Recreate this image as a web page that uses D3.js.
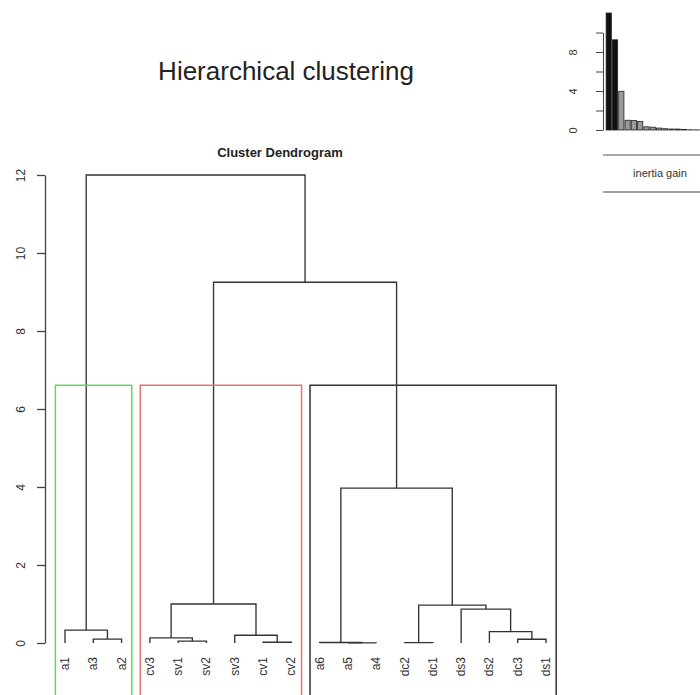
<!DOCTYPE html>
<html>
<head>
<meta charset="utf-8">
<script src="https://cdn.jsdelivr.net/npm/d3@7/dist/d3.min.js"></script>
<style>
  html, body { margin: 0; padding: 0; background: #fff; }
  svg { display: block; font-family: "Liberation Sans", Arial, Helvetica, sans-serif; }
</style>
</head>
<body>
<svg id="chart" width="700" height="695"></svg>
<script>
// ---- data ----
const leafLabels = ["a1","a3","a2","cv3","sv1","sv2","sv3","cv1","cv2","a6","a5","a4","dc2","dc1","ds3","ds2","dc3","ds1"];
// merges in hclust style: negative = leaf (1-based position), positive = earlier merge (1-based)
const mergeLeft   = [-11, -13, -8, -10, -5, -17, -2, -4, -7, -16, -1, -15, 8, 2, 4, 13, 11];
const mergeRight  = [-12, -14, -9,   1, -6, -18, -3,  5,  3,   6,  7,  10, 9, 12, 14, 15, 16];
const mergeHeight = [0.005, 0.01, 0.02, 0.012, 0.05, 0.095, 0.1, 0.13, 0.2, 0.29, 0.33, 0.87, 1.0, 0.97, 3.97, 9.25, 12.0];
const clusterRanges = [[1, 3], [4, 9], [10, 18]];
const clusterColors = ["#62d862", "#e97373", "#333333"];
const cutHeight = 6.61;
const yTicks = [0, 2, 4, 6, 8, 10, 12];
const inertiaGain = [12.0, 9.25, 3.97, 1.0, 0.97, 0.87, 0.33, 0.29, 0.2, 0.13, 0.1, 0.095, 0.05, 0.02, 0.012, 0.01, 0.005];
const inertiaTicks = [0, 2, 4, 6, 8, 10];
const inertiaTickLabels = [0, 4, 8];

const svg = d3.select("#chart");
const lineCol = "#333";

// ---- titles ----
svg.append("text").attr("x", 286).attr("y", 80).attr("text-anchor", "middle")
  .attr("font-size", 26).attr("fill", "#222").text("Hierarchical clustering");
svg.append("text").attr("x", 280).attr("y", 157).attr("text-anchor", "middle")
  .attr("font-size", 13).attr("font-weight", "bold").attr("fill", "#222").text("Cluster Dendrogram");

// ---- dendrogram scales ----
const x = d3.scaleLinear().domain([1, 18]).range([65, 546]);
const y = d3.scaleLinear().domain([0, 12]).range([643, 175]);

// y axis
const yAxis = svg.append("g").attr("transform", "translate(45,0)")
  .call(d3.axisLeft(y).tickValues(yTicks).tickSize(8).tickSizeOuter(0).tickPadding(0));
yAxis.select(".domain").attr("stroke", "#444").attr("stroke-width", 1.3);
yAxis.selectAll(".tick line").attr("stroke", "#444").attr("stroke-width", 1.3);
yAxis.selectAll(".tick text")
  .attr("font-size", 12).attr("fill", "#333")
  .attr("text-anchor", "middle")
  .attr("x", 0).attr("dy", 0)
  .attr("transform", "translate(-24,0) rotate(-90)")
  .attr("dominant-baseline", "central");

// layout of tree
const nodeX = [], nodeH = [];
function posOf(id) { return id < 0 ? -id : nodeX[id - 1]; }
function hOf(id) { return id < 0 ? 0 : nodeH[id - 1]; }
const segs = [];
mergeLeft.forEach((l, i) => {
  const r = mergeRight[i], h = mergeHeight[i];
  const x1 = posOf(l), x2 = posOf(r), h1 = hOf(l), h2 = hOf(r);
  segs.push({x1, x2, h1, h2, h});
  nodeX.push((x1 + x2) / 2);
  nodeH.push(h);
});

svg.append("g").selectAll("path").data(segs).join("path")
  .attr("d", d => `M${x(d.x1)},${y(d.h1)}V${y(d.h)}H${x(d.x2)}V${y(d.h2)}`)
  .attr("fill", "none").attr("stroke", lineCol).attr("stroke-width", 1.35);

// leaf labels
svg.append("g").selectAll("text").data(leafLabels).join("text")
  .attr("transform", (d, i) => `translate(${x(i + 1)},657) rotate(-90)`)
  .attr("text-anchor", "end").attr("dominant-baseline", "central")
  .attr("font-size", 12).attr("fill", "#333").text(d => d);

// cluster rectangles
svg.append("g").selectAll("path").data(clusterRanges).join("path")
  .attr("d", d => `M${x(d[0] - 0.34)},700V${y(cutHeight)}H${x(d[1] + 0.36)}V700`)
  .attr("fill", "none")
  .attr("stroke", (d, i) => clusterColors[i]).attr("stroke-width", 1.5);

// ---- inertia gain inset ----
const bx = d3.scaleBand().domain(d3.range(inertiaGain.length))
  .range([605.5, 605.5 + inertiaGain.length * 6.3]).paddingInner(0.17).paddingOuter(0.1);
const by = d3.scaleLinear().domain([0, 10]).range([130, 32.5]);

svg.append("g").selectAll("rect").data(inertiaGain).join("rect")
  .attr("x", (d, i) => bx(i)).attr("width", bx.bandwidth())
  .attr("y", d => by(d)).attr("height", d => by(0) - by(d))
  .attr("fill", (d, i) => i < 2 ? "#111" : "#9a9a9a")
  .attr("stroke", "#222").attr("stroke-width", 0.8);

const iAxis = svg.append("g").attr("transform", "translate(603,0)")
  .call(d3.axisLeft(by).tickValues(inertiaTicks).tickSize(7).tickSizeOuter(0).tickPadding(0)
    .tickFormat(d => inertiaTickLabels.includes(d) ? d : ""));
iAxis.select(".domain").attr("stroke", "#444");
iAxis.selectAll(".tick line").attr("stroke", "#444");
iAxis.selectAll(".tick text")
  .attr("font-size", 11).attr("fill", "#333")
  .attr("text-anchor", "middle").attr("x", 0).attr("dy", 0)
  .attr("transform", "translate(-30,0) rotate(-90)")
  .attr("dominant-baseline", "central");

svg.append("line").attr("x1", 603).attr("x2", 700).attr("y1", 155).attr("y2", 155)
  .attr("stroke", "#555").attr("stroke-width", 1);
svg.append("line").attr("x1", 603).attr("x2", 700).attr("y1", 192).attr("y2", 192)
  .attr("stroke", "#444").attr("stroke-width", 1.2);
svg.append("text").attr("x", 660).attr("y", 177).attr("text-anchor", "middle")
  .attr("font-size", 11).attr("fill", "#333").text("inertia gain");
</script>
</body>
</html>
